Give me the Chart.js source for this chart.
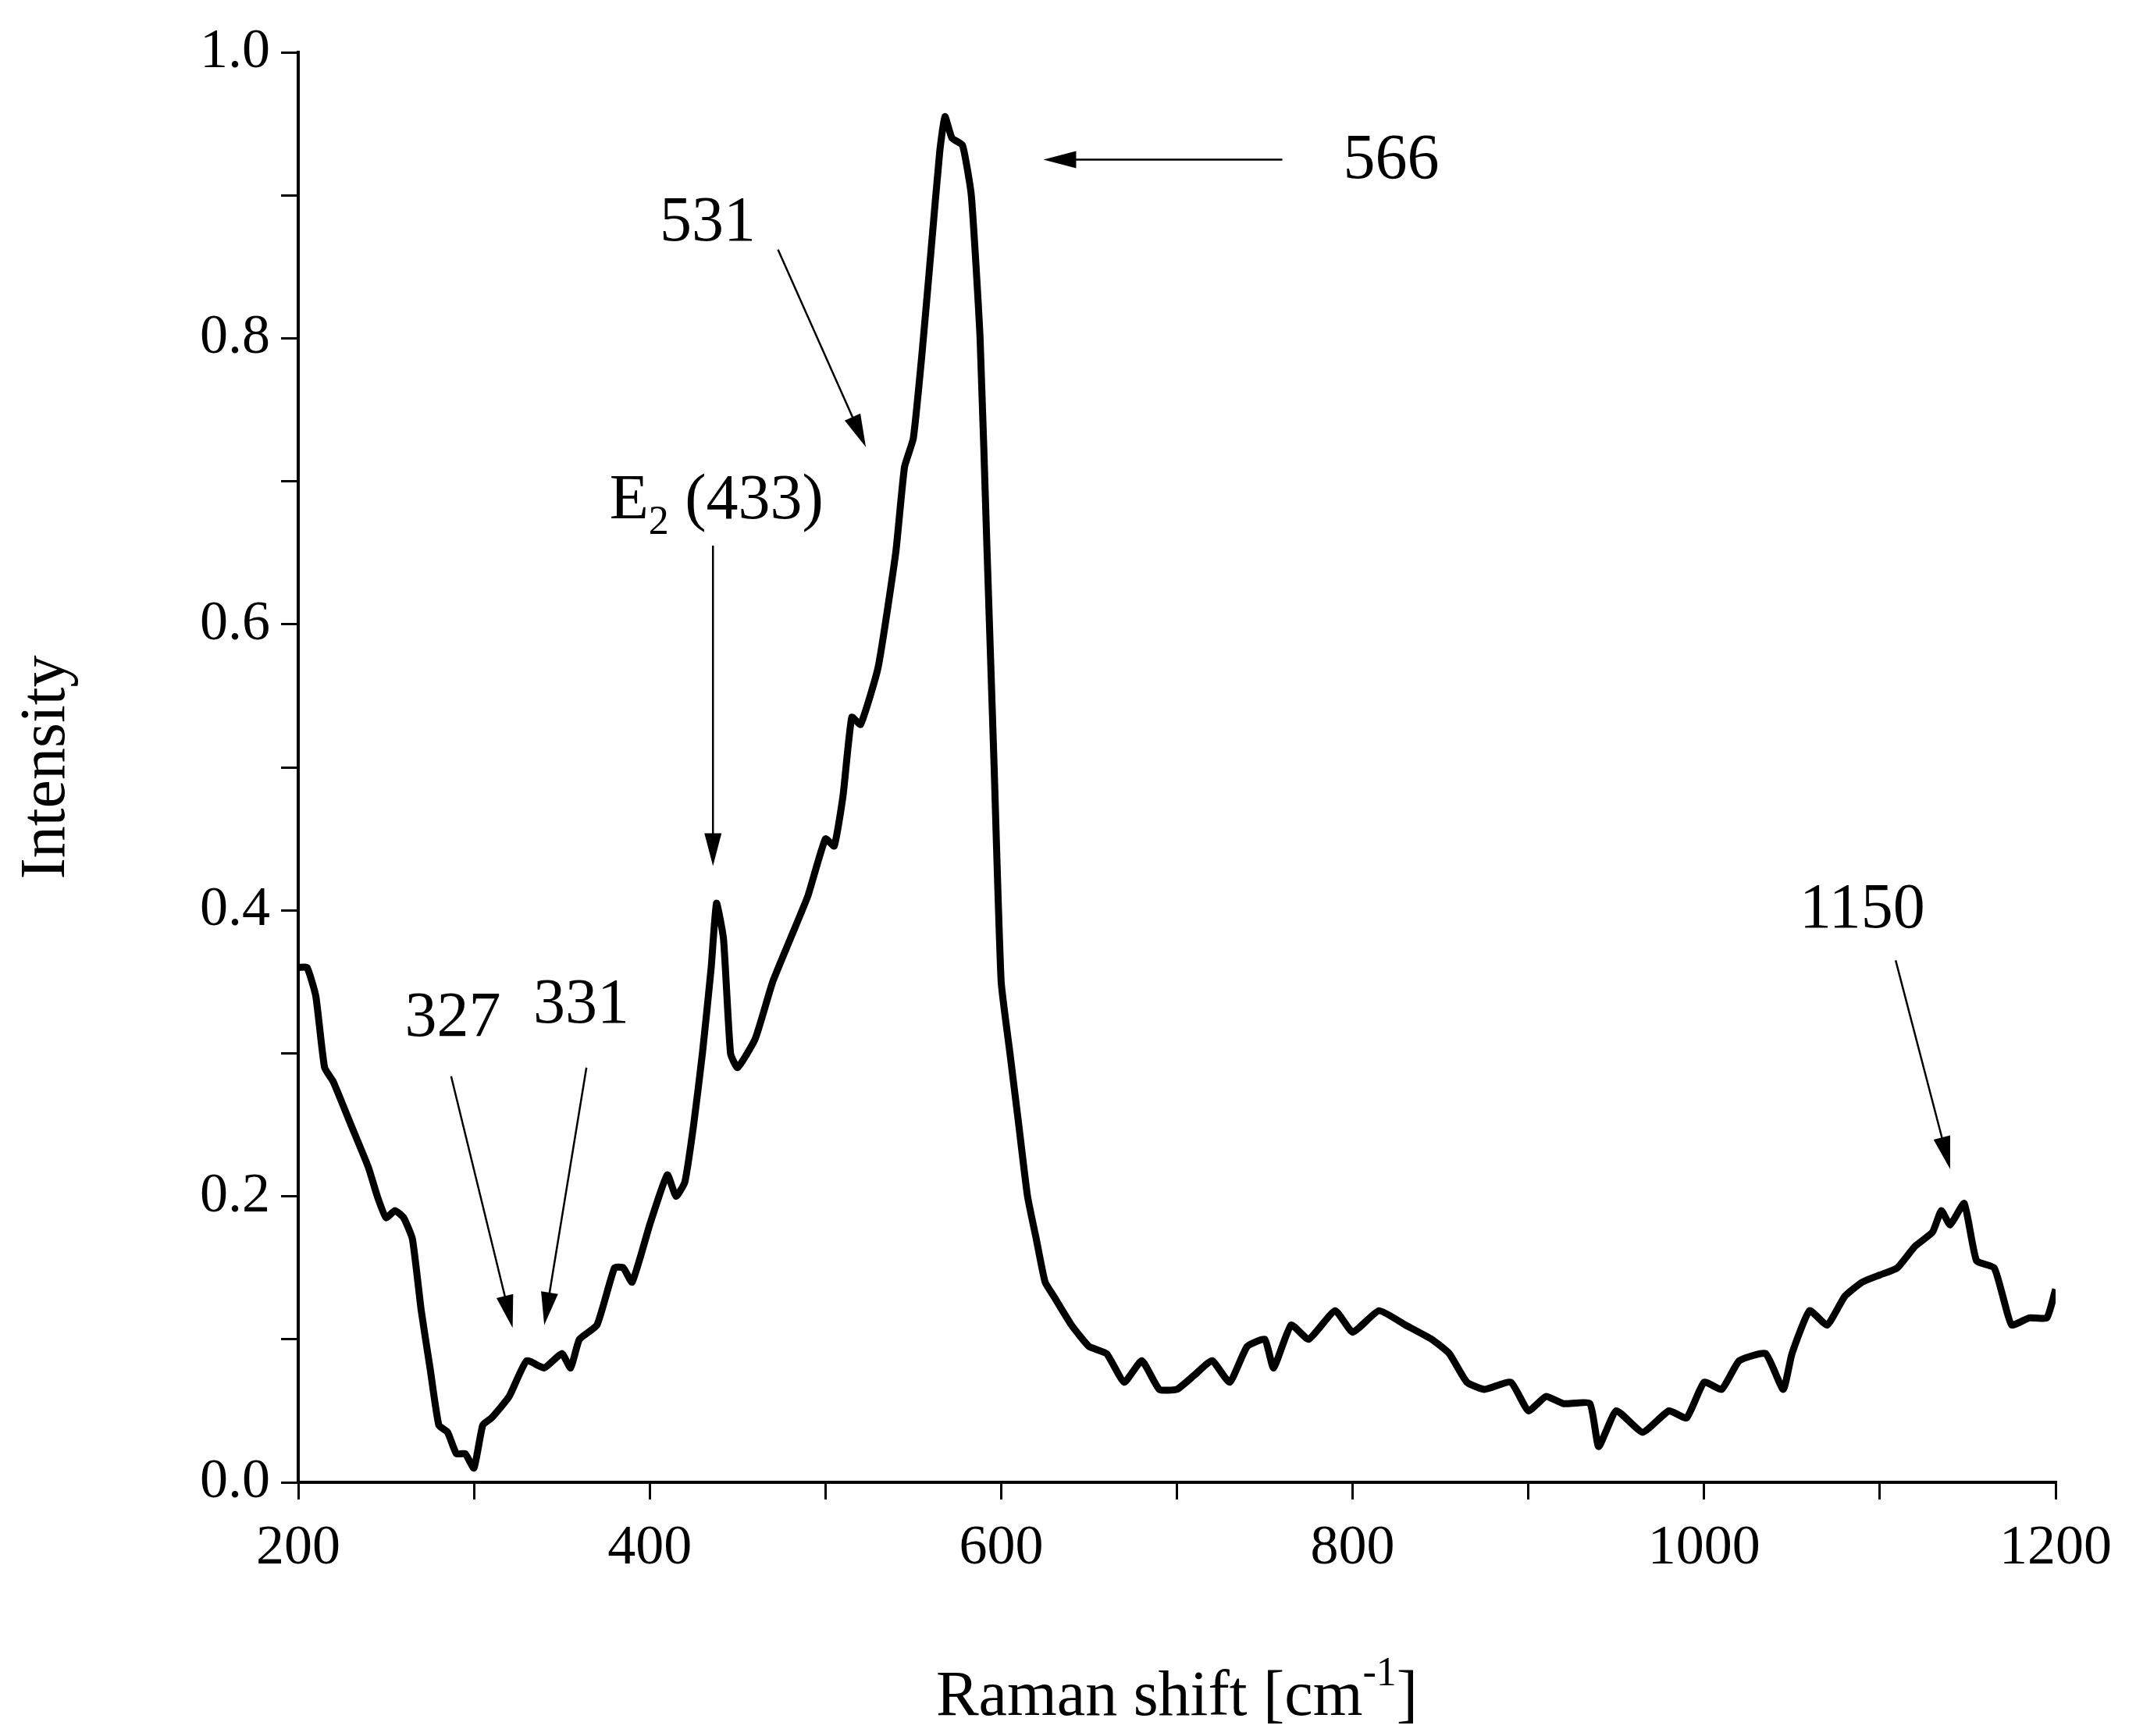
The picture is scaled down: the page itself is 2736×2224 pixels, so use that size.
<!DOCTYPE html>
<html><head><meta charset="utf-8">
<script src="https://cdn.jsdelivr.net/npm/chart.js@4"></script>
<style>html,body{margin:0;background:#fff}canvas{display:block}</style>
</head><body>
<canvas id="c" width="2736" height="2224"></canvas>
<script>
const shift = [200,205,210,215,220,230,240,245,250,255,260,265,270,275,280,285,290,295,300,305,310,320,330,340,350,355,360,370,380,385,390,400,410,415,420,425,430,435,438,442,446,450,460,470,480,490,500,505,510,515,520,530,540,545,550,555,560,565,568,572,578,583,588,592,596,600,605,610,615,620,625,630,640,650,660,670,680,690,700,710,720,730,740,750,755,765,775,790,800,815,830,845,855,865,875,890,900,910,920,935,940,950,965,980,990,1000,1010,1020,1035,1045,1050,1060,1070,1080,1090,1100,1110,1120,1130,1135,1140,1148,1155,1165,1170,1175,1185,1195,1200];
const intensity = [0.36,0.36,0.34,0.29,0.28,0.25,0.22,0.20,0.185,0.19,0.185,0.17,0.12,0.08,0.04,0.035,0.02,0.02,0.01,0.04,0.045,0.06,0.085,0.08,0.09,0.08,0.10,0.11,0.15,0.15,0.14,0.18,0.215,0.20,0.21,0.25,0.30,0.36,0.405,0.38,0.30,0.29,0.31,0.35,0.38,0.41,0.45,0.445,0.48,0.535,0.53,0.57,0.65,0.71,0.73,0.79,0.86,0.93,0.955,0.94,0.935,0.90,0.80,0.65,0.50,0.35,0.30,0.25,0.20,0.17,0.14,0.13,0.11,0.095,0.09,0.07,0.085,0.065,0.065,0.075,0.085,0.07,0.095,0.10,0.08,0.11,0.10,0.12,0.105,0.12,0.11,0.10,0.09,0.07,0.065,0.07,0.05,0.06,0.055,0.055,0.025,0.05,0.035,0.05,0.045,0.07,0.065,0.085,0.09,0.065,0.09,0.12,0.11,0.13,0.14,0.145,0.15,0.165,0.175,0.19,0.18,0.195,0.155,0.15,0.13,0.11,0.115,0.115,0.135];
const xTicks = [200,400,600,800,1000,1200];
const yTicks = [0.0,0.2,0.4,0.6,0.8,1.0];
// label text, anchor [x,y], arrow from [x,y] to [x,y]
const notes = [
  {t:'566', at:[822,0.924], from:[760,0.925], to:[624,0.925]},
  {t:'531', at:[433,0.88], from:[473,0.862], to:[523,0.724]},
  {t:'E2', at:[438,0.686], from:[436,0.655], to:[436,0.431]},
  {t:'327', at:[288,0.324], from:[287,0.284], to:[322,0.108]},
  {t:'331', at:[361,0.333], from:[364,0.29], to:[340,0.11]},
  {t:'1150', at:[1090,0.40], from:[1109,0.365], to:[1140,0.219]}
];
const FONT = '"Liberation Serif", "DejaVu Serif", serif';

function arrow(ctx, x1, y1, x2, y2) {
  const a = Math.atan2(y2 - y1, x2 - x1), L = 42, W = 11;
  ctx.beginPath(); ctx.moveTo(x1, y1);
  ctx.lineTo(x2 - L * 0.8 * Math.cos(a), y2 - L * 0.8 * Math.sin(a)); ctx.stroke();
  ctx.beginPath(); ctx.moveTo(x2, y2);
  ctx.lineTo(x2 - L * Math.cos(a) + W * Math.sin(a), y2 - L * Math.sin(a) - W * Math.cos(a));
  ctx.lineTo(x2 - L * Math.cos(a) - W * Math.sin(a), y2 - L * Math.sin(a) + W * Math.cos(a));
  ctx.closePath(); ctx.fill();
}

const notesPlugin = {
  id: 'notes',
  afterDraw(chart) {
    const ctx = chart.ctx, xs = chart.scales.x, ys = chart.scales.y;
    ctx.save();
    ctx.fillStyle = '#000'; ctx.strokeStyle = '#000'; ctx.lineWidth = 2.5;
    ctx.textAlign = 'center'; ctx.textBaseline = 'middle';
    for (const n of notes) {
      const px = xs.getPixelForValue(n.at[0]), py = ys.getPixelForValue(n.at[1]);
      if (n.t === 'E2') {
        ctx.font = '82px ' + FONT;
        ctx.textAlign = 'left';
        const w1 = ctx.measureText('E').width;
        ctx.font = '52px ' + FONT;
        const w2 = ctx.measureText('2').width;
        ctx.font = '82px ' + FONT;
        const w3 = ctx.measureText(' (433)').width;
        let x0 = px - (w1 + w2 + w3) / 2;
        ctx.fillText('E', x0, py);
        ctx.font = '52px ' + FONT; ctx.fillText('2', x0 + w1, py + 28);
        ctx.font = '82px ' + FONT; ctx.fillText(' (433)', x0 + w1 + w2, py);
        ctx.textAlign = 'center';
      } else {
        ctx.font = '82px ' + FONT;
        ctx.fillText(n.t, px, py);
      }
      arrow(ctx, xs.getPixelForValue(n.from[0]), ys.getPixelForValue(n.from[1]),
                 xs.getPixelForValue(n.to[0]), ys.getPixelForValue(n.to[1]));
    }
    // axis titles
    const ca = chart.chartArea;
    ctx.font = '82px ' + FONT; ctx.textAlign = 'left';
    const t1 = 'Raman shift [cm', t2 = ']';
    const w1 = ctx.measureText(t1).width, w2 = ctx.measureText(t2).width;
    ctx.font = '52px ' + FONT; const ws = ctx.measureText('-1').width;
    let x0 = (ca.left + ca.right) / 2 - (w1 + ws + w2) / 2, yT = 2175;
    ctx.font = '82px ' + FONT; ctx.fillText(t1, x0, yT);
    ctx.font = '52px ' + FONT; ctx.fillText('-1', x0 + w1, yT - 30);
    ctx.font = '82px ' + FONT; ctx.fillText(t2, x0 + w1 + ws, yT);
    ctx.translate(60, (ca.top + ca.bottom) / 2); ctx.rotate(-Math.PI / 2);
    ctx.textAlign = 'center'; ctx.fillText('Intensity', 0, 0);
    ctx.restore();
  }
};

new Chart(document.getElementById('c'), {
  type: 'line',
  data: { datasets: [{ data: shift.map((x, i) => ({x, y: intensity[i]})),
    borderColor: '#000', borderWidth: 9, pointRadius: 0, tension: 0.15, fill: false }] },
  options: {
    responsive: false, animation: false,
    layout: { padding: { top: 67, right: 103, left: 0, bottom: 0 } },
    plugins: { legend: { display: false }, tooltip: { enabled: false } },
    scales: {
      x: { type: 'linear', min: 200, max: 1200,
        afterFit(s) { s.height = 325; },
        afterBuildTicks(s) { s.ticks = []; for (let v = 200; v <= 1200; v += 100) s.ticks.push({value: v}); },
        ticks: { font: { family: FONT, size: 72 }, color: '#000', padding: 20, maxRotation: 0,
          callback: v => xTicks.includes(v) ? String(v) : '' },
        grid: { drawOnChartArea: false, color: '#000', tickLength: 22, lineWidth: 3 },
        border: { color: '#000', width: 4 } },
      y: { min: 0, max: 1,
        afterFit(s) { s.width = 382; },
        afterBuildTicks(s) { s.ticks = []; for (let i = 0; i <= 10; i++) s.ticks.push({value: i / 10}); },
        ticks: { font: { family: FONT, size: 72 }, color: '#000', padding: 14,
          callback: v => yTicks.some(t => Math.abs(t - v) < 1e-6) ? v.toFixed(1) : '' },
        grid: { drawOnChartArea: false, color: '#000', tickLength: 22, lineWidth: 3 },
        border: { color: '#000', width: 4 } }
    }
  },
  plugins: [notesPlugin]
});
</script>
</body></html>
